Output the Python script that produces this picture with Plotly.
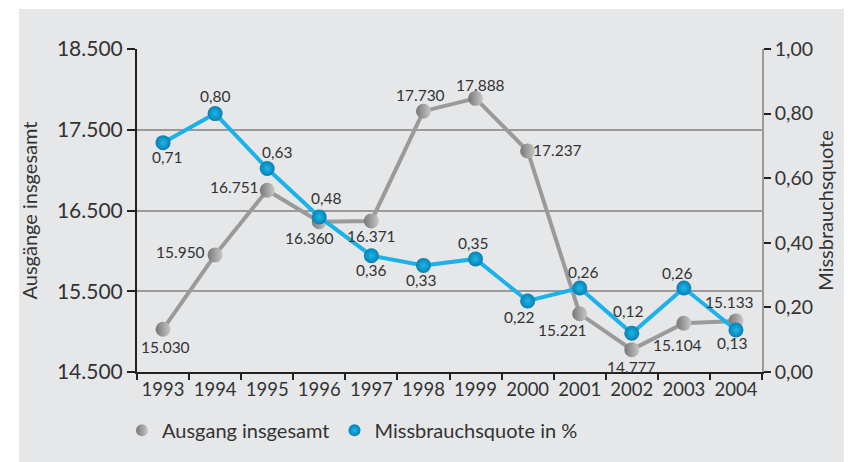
import plotly.graph_objects as go

years = ["1993", "1994", "1995", "1996", "1997", "1998", "1999", "2000", "2001", "2002", "2003", "2004"]
ausgang = [15030, 15950, 16751, 16360, 16371, 17730, 17888, 17237, 15221, 14777, 15104, 15133]
quote = [0.71, 0.80, 0.63, 0.48, 0.36, 0.33, 0.35, 0.22, 0.26, 0.12, 0.26, 0.13]
ausgang_labels = ["15.030", "15.950", "16.751", "16.360", "16.371", "17.730", "17.888", "17.237", "15.221", "14.777", "15.104", "15.133"]
quote_labels = ["0,71", "0,80", "0,63", "0,48", "0,36", "0,33", "0,35", "0,22", "0,26", "0,12", "0,26", "0,13"]
left_ticks = [14500, 15500, 16500, 17500, 18500]
left_tick_labels = ["14.500", "15.500", "16.500", "17.500", "18.500"]
right_ticks = [0, 0.2, 0.4, 0.6, 0.8, 1.0]
right_tick_labels = ["0,00", "0,20", "0,40", "0,60", "0,80", "1,00"]

# label offsets in px (dx right, dy down) relative to each point
ausgang_offsets = [(2, 18), (-35, -3), (-33, -3), (-10, 16), (0, 15), (-3, -16),
                   (5, -13), (30, -1), (-17, 16), (0, 17), (-6, 22), (-6, -19)]
quote_offsets = [(4, 14), (0, -18), (10, -17), (7, -19), (0, 14), (-2, 15),
                 (-2, -16), (-8, 16), (4, -16), (-3, -22), (-6, -15), (-3, 13)]

FONT = "Lato, 'Noto Sans', sans-serif"
TXT = "#333333"
GRAY_LINE = "#9a9a9a"
BLUE_LINE = "#1ab2e8"
gray_marker = dict(size=15, color="#777777", gradient=dict(type="horizontal", color="#c8c8c8"))
blue_marker = dict(size=15, color="#0a7fb0", gradient=dict(type="radial", color="#19b8ec"))

fig = go.Figure()
fig.add_trace(go.Scatter(
    x=years, y=ausgang, name="Ausgang insgesamt", mode="lines+markers", showlegend=False,
    line=dict(color=GRAY_LINE, width=4), marker=gray_marker, cliponaxis=False,
))
fig.add_trace(go.Scatter(
    x=years, y=quote, name="Missbrauchsquote in %", mode="lines+markers", yaxis="y2", showlegend=False,
    line=dict(color=BLUE_LINE, width=4), marker=blue_marker, cliponaxis=False,
))
# legend entries (marker only)
fig.add_trace(go.Scatter(x=[None], y=[None], name="Ausgang insgesamt", mode="markers",
                         marker=dict(gray_marker, size=13)))
fig.add_trace(go.Scatter(x=[None], y=[None], name="Missbrauchsquote in %", mode="markers",
                         marker=dict(blue_marker, size=13), yaxis="y2"))

annotations = []
for i, (v, lab, (dx, dy)) in enumerate(zip(ausgang, ausgang_labels, ausgang_offsets)):
    annotations.append(dict(x=i, y=v, xref="x", yref="y", text=lab, showarrow=False,
                            xshift=dx, yshift=-dy, font=dict(family=FONT, size=15.5, color=TXT)))
for i, (v, lab, (dx, dy)) in enumerate(zip(quote, quote_labels, quote_offsets)):
    annotations.append(dict(x=i, y=v, xref="x", yref="y2", text=lab, showarrow=False,
                            xshift=dx, yshift=-dy, font=dict(family=FONT, size=15.5, color=TXT)))

fig.update_layout(
    width=844, height=454,
    margin=dict(l=129, r=90, t=41, b=85),
    paper_bgcolor="white",
    plot_bgcolor="#e0f2fa",
    font=dict(family=FONT, color=TXT),
    showlegend=True,
    legend=dict(orientation="h", x=-0.024, y=-0.12, xanchor="left", yanchor="top",
                font=dict(family=FONT, size=20, color=TXT), bgcolor="rgba(0,0,0,0)",
                itemsizing="constant"),
    annotations=annotations,
    xaxis=dict(
        type="category", tickson="boundaries", ticks="outside", ticklen=6, tickcolor="#222", tickwidth=1.5,
        showline=True, linecolor="#222", linewidth=2, showgrid=False, automargin=False, tickangle=0,
        tickfont=dict(family=FONT, size=18.5, color=TXT), range=[-0.5, 11.5],
    ),
    yaxis=dict(
        range=[14500, 18500], tickvals=left_ticks, ticktext=left_tick_labels,
        ticks="outside", ticklen=8, tickcolor="#222", tickwidth=2, automargin=False,
        showline=True, linecolor="#222", linewidth=2,
        showgrid=True, gridcolor="#9a9a9a", gridwidth=1.5, zeroline=False,
        tickfont=dict(family=FONT, size=21, color=TXT),
        title=dict(text="Ausgänge insgesamt", font=dict(family=FONT, size=20, color=TXT), standoff=14),
    ),
    yaxis2=dict(
        overlaying="y", side="right", range=[0, 1.0], tickvals=right_ticks, ticktext=right_tick_labels,
        ticks="outside", ticklen=7, tickcolor="#222", tickwidth=2, automargin=False,
        showline=True, linecolor="#9a9a9a", linewidth=1.5, showgrid=False, zeroline=False,
        tickfont=dict(family=FONT, size=19.5, color=TXT),
        title=dict(text="Missbrauchsquote", font=dict(family=FONT, size=20, color=TXT), standoff=6),
    ),
    shapes=[dict(type="rect", xref="paper", yref="paper", layer="below",
                 x0=(19 - 137) / 625, x1=1.3, y0=-0.4, y1=(372 - 9) / 323,
                 fillcolor="#e6e7e9", line=dict(width=0))],
)

fig.write_html("out.html")
